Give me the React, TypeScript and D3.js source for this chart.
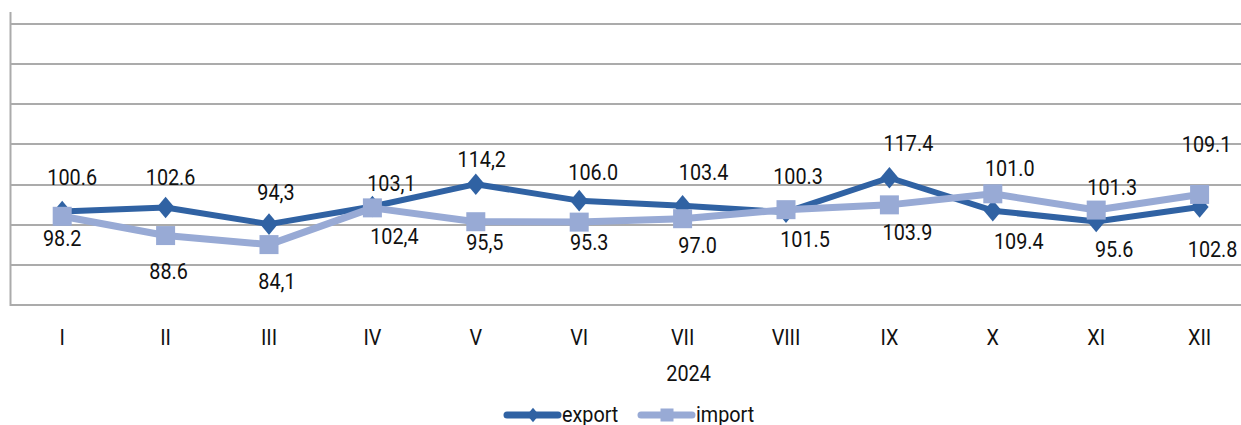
import React, { useRef, useEffect } from "react";
import * as d3 from "d3";

const months = ["I", "II", "III", "IV", "V", "VI", "VII", "VIII", "IX", "X", "XI", "XII"];
const exportValues = [100.6, 102.6, 94.3, 103.1, 114.2, 106.0, 103.4, 100.3, 117.4, 101.0, 95.6, 102.8];
const importValues = [98.2, 88.6, 84.1, 102.4, 95.5, 95.3, 97.0, 101.5, 103.9, 109.4, 101.3, 109.1];
// months whose labels are written with a decimal comma in the original
const commaMonths = ["III", "IV", "V"];
const gridTicks = [54, 74, 94, 114, 134, 154, 174, 194];
const yearLabel = "2024";
const seriesNames = ["export", "import"];

// hand-moved data label offsets (dx, dy from the point)
const exportNudge = [[10, -34], [5, -30], [7, -31], [19, -23], [6, -25], [14, -28], [21, -33], [12, -35], [19, -34], [17, -42], [18, 28], [13, 43]];
const importNudge = [[0, 22], [3, 36], [8, 37], [22, 29], [9, 21], [10, 21], [15, 27], [19, 30], [18, 28], [26, 48], [16, -22], [7, -50]];

const FONT = "Roboto, 'Liberation Sans', sans-serif";
const EXPORT_COLOR = "#3062a3";
const IMPORT_COLOR = "#98aad5";
const SQUEEZE = 0.9;

const fmt = (v: number, m: string) => {
  const s = v.toFixed(1);
  return commaMonths.includes(m) ? s.replace(".", ",") : s;
};

const App = () => {
  const svgRef = useRef<SVGSVGElement>(null);

  useEffect(() => {
    const svg = d3.select(svgRef.current);
    svg.selectAll("*").remove();
    const width = 1241,
      left = 10.5,
      band = 103.4;

    const x = d3
      .scaleBand()
      .domain(months)
      .range([left, left + band * months.length]);
    const cx = (m: string) => (x(m) as number) + x.bandwidth() / 2;
    const y = d3.scaleLinear().domain([54, 200]).range([305, 12]);

    // condensed looking text
    const label = (g: any, tx: number, ty: number, str: string, anchor = "middle") =>
      g
        .append("text")
        .attr("transform", `translate(${tx},${ty}) scale(${SQUEEZE},1)`)
        .attr("text-anchor", anchor)
        .attr("dominant-baseline", "central")
        .style("font-family", FONT)
        .style("font-size", "22px")
        .style("fill", "#111")
        .text(str);

    // gridlines
    svg
      .append("g")
      .selectAll("line")
      .data(gridTicks)
      .enter()
      .append("line")
      .attr("x1", left)
      .attr("x2", width)
      .attr("y1", (d) => Math.round(y(d)))
      .attr("y2", (d) => Math.round(y(d)))
      .style("stroke", "#ababab")
      .style("stroke-width", 2);

    // left axis
    svg
      .append("line")
      .attr("x1", left)
      .attr("x2", left)
      .attr("y1", y(200))
      .attr("y2", Math.round(y(54)) + 1)
      .style("stroke", "#ababab")
      .style("stroke-width", 2);

    // category labels
    const catG = svg.append("g");
    months.forEach((m) => label(catG, cx(m), 338, m));
    label(svg, cx("VII") + 6, 374, yearLabel);

    const line = d3
      .line<number>()
      .x((d, i) => cx(months[i]))
      .y((d) => y(d));

    const diamond = (s: number) => `M0,${-s * 1.2}L${s},0L0,${s * 1.2}L${-s},0Z`;

    // export series
    svg
      .append("path")
      .datum(exportValues)
      .attr("d", line)
      .style("fill", "none")
      .style("stroke", EXPORT_COLOR)
      .style("stroke-width", 6)
      .style("stroke-linejoin", "round");
    svg
      .append("g")
      .selectAll("path")
      .data(exportValues)
      .enter()
      .append("path")
      .attr("d", diamond(9))
      .attr("transform", (d, i) => `translate(${cx(months[i])},${y(d)})`)
      .style("fill", EXPORT_COLOR);

    // import series
    svg
      .append("path")
      .datum(importValues)
      .attr("d", line)
      .style("fill", "none")
      .style("stroke", IMPORT_COLOR)
      .style("stroke-width", 7)
      .style("stroke-linejoin", "round");
    svg
      .append("g")
      .selectAll("rect")
      .data(importValues)
      .enter()
      .append("rect")
      .attr("x", (d, i) => cx(months[i]) - 9.5)
      .attr("y", (d) => y(d) - 9.5)
      .attr("width", 19)
      .attr("height", 19)
      .style("fill", IMPORT_COLOR);

    // data labels
    const addLabels = (values: number[], nudge: number[][]) => {
      const g = svg.append("g");
      values.forEach((v, i) =>
        label(g, cx(months[i]) + nudge[i][0], y(v) + nudge[i][1], fmt(v, months[i]))
      );
    };
    addLabels(exportValues, exportNudge);
    addLabels(importValues, importNudge);

    // legend
    const legend = svg.append("g").attr("transform", "translate(0,415)");
    const items = [
      { name: seriesNames[0], color: EXPORT_COLOR, x0: 507 },
      { name: seriesNames[1], color: IMPORT_COLOR, x0: 641 },
    ];
    items.forEach((it, k) => {
      legend
        .append("line")
        .attr("x1", it.x0)
        .attr("x2", it.x0 + 51)
        .attr("y1", 0)
        .attr("y2", 0)
        .style("stroke", it.color)
        .style("stroke-width", 7)
        .style("stroke-linecap", "round");
      if (k === 0) {
        legend
          .append("path")
          .attr("d", diamond(6))
          .attr("transform", `translate(${it.x0 + 26},0)`)
          .style("fill", it.color);
      } else {
        legend
          .append("rect")
          .attr("x", it.x0 + 26 - 6.5)
          .attr("y", -6.5)
          .attr("width", 13)
          .attr("height", 13)
          .style("fill", it.color);
      }
      label(legend, it.x0 + 55, 0, it.name, "start");
    });
  }, []);

  return (
    <svg
      ref={svgRef}
      width={1241}
      height={425}
      style={{ position: "absolute", left: 0, top: 0, background: "#fff" }}
    ></svg>
  );
};

export default App;
